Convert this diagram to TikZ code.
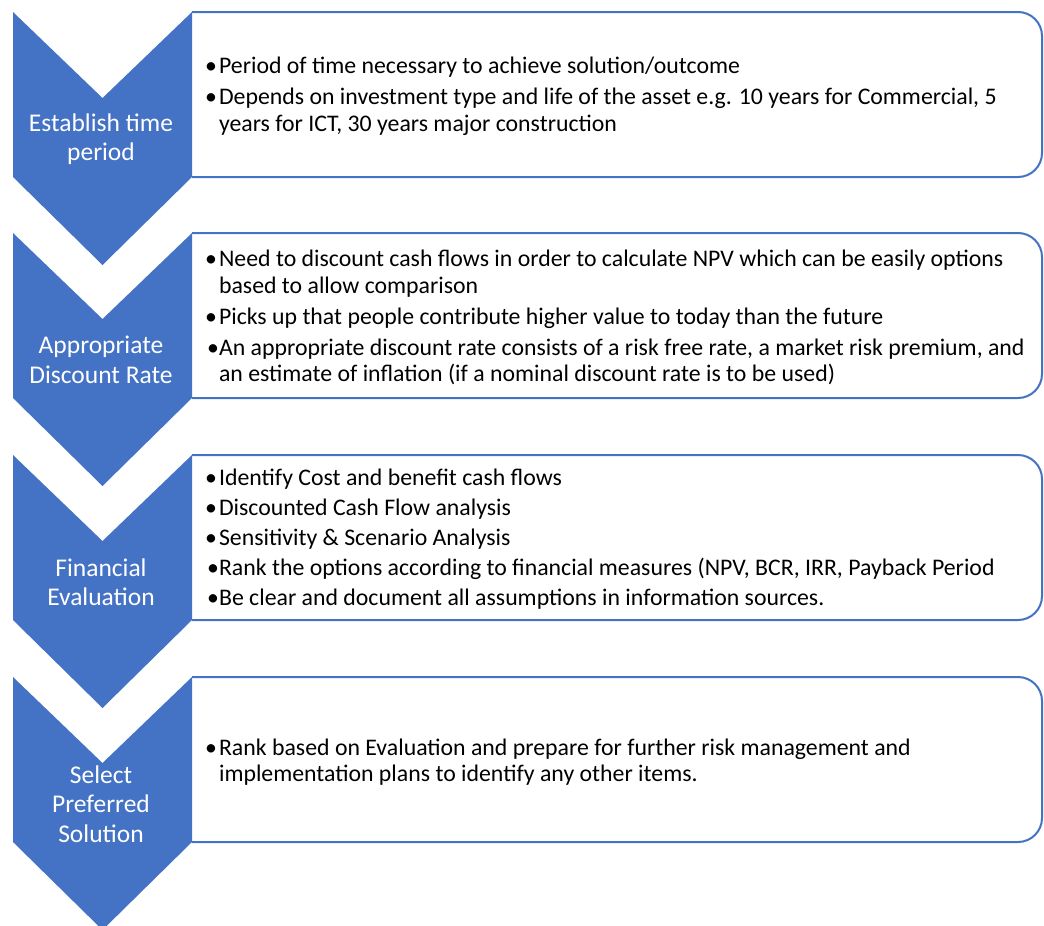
\documentclass[tikz,border=0pt]{standalone}
\usepackage{fontspec}
\setmainfont{Carlito}
\usepackage{tikz}
\definecolor{stepblue}{HTML}{4472C4}

\begin{document}
\begin{tikzpicture}[x=1pt,y=-1pt]
    \tikzset{
      chevron/.style={fill=stepblue, draw=none},
      panel/.style={draw=stepblue, line width=2pt, rounded corners=24pt},
      steplabel/.style={text=white, align=center, inner sep=0pt,
        font=\fontsize{25.5}{29.5}\selectfont},
      points/.style={anchor=west, inner sep=0pt,
        font=\fontsize{23.8}{26.5}\selectfont}
    }
    \useasboundingbox (0,0) rectangle (1044,926);

    % panels and chevrons
    \foreach \t in {12,233,455,677}{
      \draw[panel] (192,\t) -- (1042,\t) -- (1042,\t+165) -- (192,\t+165);
      \fill[chevron] (13,\t) -- (102.5,\t+86) -- (192,\t) -- (192,\t+165)
        -- (102.5,\t+253) -- (13,\t+165) -- cycle;
    }

    % step labels
    \node[steplabel] (time) at (101,139) {Establish time\\period};
    \node[steplabel] (rate) at (101,360) {Appropriate\\Discount Rate};
    \node[steplabel] (eval) at (101,582) {Financial\\Evaluation};
    \node[steplabel] (pick) at (101,804) {Select\\Preferred\\Solution};

    % bullet texts
    \node[points] (timetxt) at (205,97) {%
      \begin{tabular}{@{}l@{\hspace{2pt}}l@{}}
      \textbullet & Period of time necessary to achieve solution/outcome\\[4.5pt]
      \textbullet & Depends on investment type and life of the asset e.g. 10 years for Commercial, 5\\
                  & years for ICT, 30 years major construction
      \end{tabular}};
    \node[points] (ratetxt) at (205,319) {%
      \begin{tabular}{@{}l@{\hspace{2pt}}l@{}}
      \textbullet & Need to discount cash flows in order to calculate NPV which can be easily options\\
                  & based to allow comparison\\[4.5pt]
      \textbullet & Picks up that people contribute higher value to today than the future\\[4.5pt]
                  & \llap{\textbullet}An appropriate discount rate consists of a risk free rate, a market risk premium, and\\
                  & an estimate of inflation (if a nominal discount rate is to be used)
      \end{tabular}};
    \node[points] (evaltxt) at (205,540) {%
      \begin{tabular}{@{}l@{\hspace{2pt}}l@{}}
      \textbullet & Identify Cost and benefit cash flows\\[3.5pt]
      \textbullet & Discounted Cash Flow analysis\\[3.5pt]
      \textbullet & Sensitivity \& Scenario Analysis\\[3.5pt]
                  & \llap{\textbullet}Rank the options according to financial measures (NPV, BCR, IRR, Payback Period\\[3.5pt]
                  & \llap{\textbullet}Be clear and document all assumptions in information sources.
      \end{tabular}};
    \node[points] (picktxt) at (205,763) {%
      \begin{tabular}{@{}l@{\hspace{2pt}}l@{}}
      \textbullet & Rank based on Evaluation and prepare for further risk management and\\
                  & implementation plans to identify any other items.
      \end{tabular}};
\end{tikzpicture}
\end{document}
